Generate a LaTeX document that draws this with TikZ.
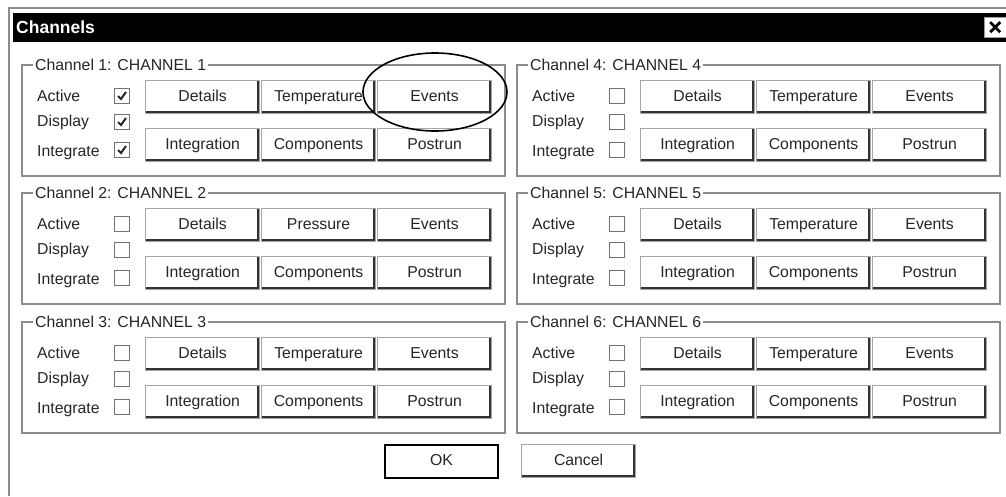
\documentclass[tikz,border=0pt]{standalone}
\usepackage{fontspec}
\setmainfont{Liberation Sans}
\begin{document}
\begin{tikzpicture}[x=1pt,y=-1pt,
  font=\fontsize{15.8}{18}\selectfont,
  frame/.style={draw=black!45, line width=1.3pt},
  gtitle/.style={anchor=west, fill=white, inner sep=2pt, text=black!85},
  lbl/.style={anchor=west, inner sep=0pt, text=black!85, text height=11pt, text depth=3pt},
  chk/.style={draw=black!55, line width=1.4pt, fill=white, minimum size=15pt, inner sep=0pt},
  tick/.style={line width=2pt, black!85},
  btn/.style={draw=black!35, line width=1.2pt, fill=white, anchor=north west,
    minimum width=114pt, minimum height=33pt, inner sep=0pt, text=black!85,
    text height=11pt, text depth=3pt,
    path picture={\draw[line width=4.5pt, black!80]
      (path picture bounding box.south west) -- (path picture bounding box.south east)
      -- (path picture bounding box.north east);}},
  defbtn/.style={draw=black, line width=2.2pt, fill=white, anchor=north west,
    minimum width=113pt, minimum height=33pt, inner sep=0pt, text=black!85,
    text height=11pt, text depth=3pt},
  ringmark/.style={draw=black, line width=1.6pt}
]
\useasboundingbox[fill=white] (0,0) rectangle (1006,496);
% window frame and title bar
\draw[black!45, line width=2pt] (9,496) -- (9,8) -- (1006,8);
\fill[black] (13,13) rectangle (1006,42);
\node[anchor=west, text=white, font=\fontsize{17.5}{20}\selectfont\bfseries, inner sep=0pt] (title) at (16,27) {Channels};
\node[draw=black!40, fill=white, minimum width=22pt, minimum height=20pt, inner sep=0pt, anchor=north west] (close) at (984,17) {};
\draw[line width=2.8pt, black] ([shift={(-5,-5)}]close.center) -- ([shift={(5,5)}]close.center)
  ([shift={(-5,5)}]close.center) -- ([shift={(5,-5)}]close.center);
% channel groups
\foreach \L/\T/\n/\s/\c in {22/65/1/Temperature/1, 22/193/2/Pressure/0, 22/322/3/Temperature/0,
                             517/65/4/Temperature/0, 517/193/5/Temperature/0, 517/322/6/Temperature/0}{
  \draw[frame] (\L,\T) rectangle (\L+483,\T+111);
  \node[gtitle] (g\n) at (\L+11,\T) {Channel \n: CHANNEL \n};
  \node[lbl] (la\n) at (\L+15,\T+32) {Active};
  \node[lbl] (ld\n) at (\L+15,\T+57) {Display};
  \node[lbl] (li\n) at (\L+15,\T+87) {Integrate};
  \node[chk] (ca\n) at (\L+100,\T+31) {};
  \node[chk] (cd\n) at (\L+100,\T+57) {};
  \node[chk] (ci\n) at (\L+100,\T+85) {};
  \ifnum\c=1
    \foreach \k in {ca\n,cd\n,ci\n}{
      \draw[tick] ([shift={(-4,0)}]\k.center) -- ++(3,3) -- ++(5,-7);
    }
  \fi
  \node[btn] (bd\n) at (\L+123,\T+15) {Details};
  \node[btn] (bs\n) at (\L+239,\T+15) {\s};
  \node[btn] (be\n) at (\L+355,\T+15) {Events};
  \node[btn] (bi\n) at (\L+123,\T+63) {Integration};
  \node[btn] (bc\n) at (\L+239,\T+63) {Components};
  \node[btn] (bp\n) at (\L+355,\T+63) {Postrun};
}
% dialog buttons
\node[defbtn] (ok) at (384,444) {OK};
\node[btn] (cancel) at (521,444) {Cancel};
% highlight ellipse
\draw[ringmark] (435,92) ellipse [x radius=72pt, y radius=39pt];
\end{tikzpicture}
\end{document}
